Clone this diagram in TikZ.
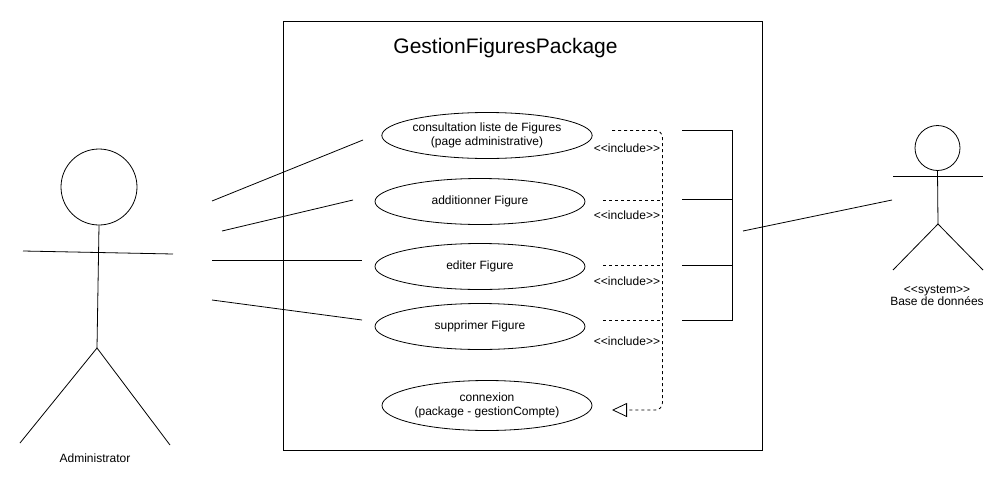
\documentclass[tikz,border=0pt]{standalone}
\usepackage{fontspec}
\setmainfont{Liberation Sans}
\usetikzlibrary{shapes.geometric, arrows.meta, positioning}
\tikzset{
	usecase/.style={draw, ellipse, minimum width=210, minimum height=46, inner sep=0, align=center, font=\fontsize{12}{13.5}\selectfont},
	lbl/.style={inner sep=0, align=center, font=\fontsize{12}{12.5}\selectfont},
	incl/.style={dash pattern=on 3pt off 3pt}
}
\begin{document}
\begin{tikzpicture}[x=1pt, y=-1pt, line width=0.8pt]
	\useasboundingbox (0,0) rectangle (1005,485);

	% package frame
	\node [draw, minimum width=479, minimum height=429, inner sep=0] (frame) at (522.5, 235.5) {};
	\node [inner sep=0, font=\fontsize{21}{24}\selectfont] (title) at (505.5, 48) {GestionFiguresPackage};

	% use cases
	\node [usecase] (consult) at (487, 135.5) {consultation liste de Figures\\(page administrative)};
	\node [usecase] (add) at (480, 201.5) {additionner Figure};
	\node [usecase] (edit) at (480, 266.5) {editer Figure};
	\node [usecase] (del) at (480, 326.5) {supprimer Figure};
	\node [usecase, minimum height=50] (login) at (487, 405.5) {connexion\\(package - gestionCompte)};

	% include labels
	\foreach \n/\y in {a/148, b/215, c/281, d/341}
		\node [lbl] (inc\n) at (627, \y) {{<}{<}include{>}{>}};

	% dashed include lines
	\coordinate (cornerT) at (662.4, 130.4);
	\coordinate (cornerB) at (662.4, 410);
	\coordinate (target) at (612, 410);
	\coordinate (startA) at (612, 130.4);
	\draw [incl, rounded corners=7, -{Triangle[open, length=15pt, width=14pt]}] (startA) -- (cornerT) -- (cornerB) -- (target);
	\foreach \n/\y in {b/200, c/265, d/320}
	{
		\coordinate (start\n) at (603, \y);
		\coordinate (end\n) at (662, \y);
		\draw [incl] (start\n) -- (end\n);
	}

	% bracket towards the system actor
	\coordinate (brTop) at (732, 130);
	\coordinate (brBot) at (732, 320);
	\draw (682, 130) -- (brTop) -- (brBot) -- (682, 320);
	\foreach \y in {199, 265}
		\draw (682, \y) -- (732, \y);
	\coordinate (brOut) at (743, 231);
	\coordinate (sysIn) at (892, 200);
	\draw (brOut) -- (sysIn);

	% administrator
	\node [draw, circle, minimum size=76, inner sep=0] (adminHead) at (99, 187) {};
	\coordinate (adminHip) at (97, 348);
	\draw (adminHead.south) -- (adminHip);
	\coordinate (adminL) at (23, 251);
	\coordinate (adminR) at (173, 254);
	\draw (adminL) -- (adminR);
	\coordinate (adminFootL) at (20, 443);
	\coordinate (adminFootR) at (170, 445);
	\draw (adminFootL) -- (adminHip) -- (adminFootR);
	\node [lbl] (admin) at (95, 458) {Administrator};

	% administrator links
	\foreach \n/\xa/\ya/\xb/\yb in {a/212/201/363/140, b/222/231/353/200, c/212/260/362/260, d/212/300/362/320}
	{
		\coordinate (from\n) at (\xa, \ya);
		\coordinate (to\n) at (\xb, \yb);
		\draw (from\n) -- (to\n);
	}

	% system actor
	\node [draw, circle, minimum size=45, inner sep=0] (sysHead) at (937.5, 148) {};
	\coordinate (sysHip) at (938, 224);
	\draw (sysHead.south) -- (sysHip);
	\coordinate (sysL) at (893, 176);
	\coordinate (sysR) at (983, 176);
	\draw (sysL) -- (sysR);
	\coordinate (sysFootL) at (893, 270);
	\coordinate (sysFootR) at (983, 270);
	\draw (sysFootL) -- (sysHip) -- (sysFootR);
	\node [lbl] (sys) at (937, 295.5) {{<}{<}system{>}{>}\\Base de données};
\end{tikzpicture}
\end{document}
